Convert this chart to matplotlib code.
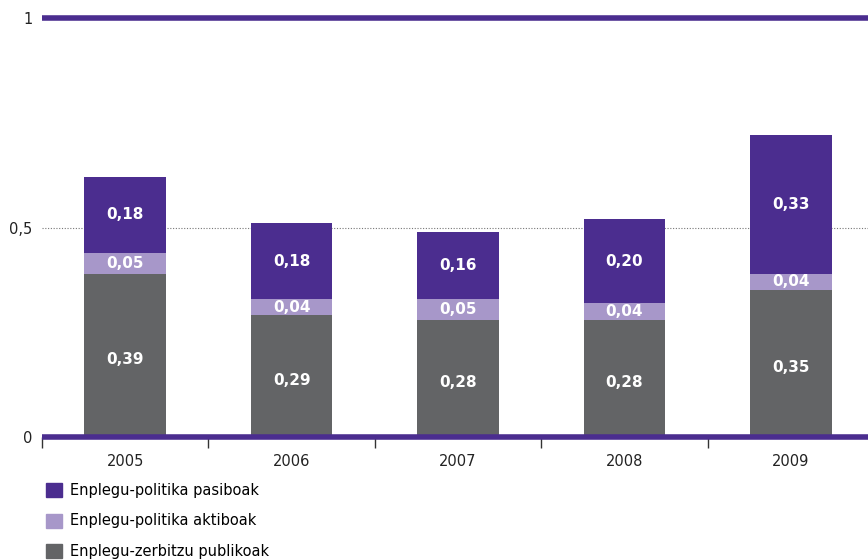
import matplotlib.pyplot as plt
from matplotlib.patches import Patch
import numpy as np

years = ["2005", "2006", "2007", "2008", "2009"]
publikoak = [0.39, 0.29, 0.28, 0.28, 0.35]   # Enplegu-zerbitzu publikoak
aktiboak = [0.05, 0.04, 0.05, 0.04, 0.04]    # Enplegu-politika aktiboak
pasiboak = [0.18, 0.18, 0.16, 0.20, 0.33]    # Enplegu-politika pasiboak

c_dark = "#4b2d8f"
c_light = "#a797c9"
c_grey = "#636466"

fig = plt.figure(figsize=(8.68, 5.6), dpi=100)
# axes runs past the right edge of the figure, like the original
ax = fig.add_axes([42 / 868, 1 - 437 / 560, 832 / 868, 419 / 560])

x = np.arange(len(years))
w = 0.49
pub = np.array(publikoak)
akt = np.array(aktiboak)
pas = np.array(pasiboak)

ax.axhline(0.5, color="#777777", lw=0.8, ls=(0, (1, 1.5)), zorder=1)
ax.bar(x, pub, w, color=c_grey, zorder=2)
ax.bar(x, akt, w, bottom=pub, color=c_light, zorder=2)
ax.bar(x, pas, w, bottom=pub + akt, color=c_dark, zorder=2)

def fmt(v):
    return f"{v:.2f}".replace(".", ",")

for i in range(len(years)):
    ax.text(x[i], pub[i] / 2 - 0.01, fmt(pub[i]), ha="center", va="center",
            color="white", fontsize=11, fontweight="bold")
    ax.text(x[i], pub[i] + akt[i] / 2, fmt(akt[i]), ha="center", va="center",
            color="white", fontsize=11, fontweight="bold")
    ax.text(x[i], pub[i] + akt[i] + pas[i] / 2, fmt(pas[i]), ha="center", va="center",
            color="white", fontsize=11, fontweight="bold")

# top and bottom purple lines
ax.axhline(1, color=c_dark, lw=4, zorder=3, clip_on=False, solid_capstyle="butt")
ax.axhline(0, color=c_dark, lw=4, zorder=3, clip_on=False, solid_capstyle="butt")

ax.set_xlim(-0.5, 4.5)
ax.set_ylim(0, 1)
for s in ax.spines.values():
    s.set_visible(False)

ax.set_yticks([0, 0.5, 1])
ax.set_yticklabels(["0", "0,5", "1"], fontsize=10.5, color="#222222")
ax.tick_params(axis="y", length=0, pad=7)

ax.set_xticks(x)
ax.set_xticklabels(years, fontsize=10.5, color="#222222")
ax.tick_params(axis="x", length=0, pad=12)
ax.set_xticks(np.arange(-0.5, 5, 1), minor=True)
ax.tick_params(axis="x", which="minor", length=8, width=1, color="#333333")

handles = [Patch(color=c_dark, label="Enplegu-politika pasiboak"),
           Patch(color=c_light, label="Enplegu-politika aktiboak"),
           Patch(color=c_grey, label="Enplegu-zerbitzu publikoak")]
fig.legend(handles=handles, loc="upper left", bbox_to_anchor=(46 / 868, 1 - 483 / 560),
           frameon=False, fontsize=10.5, handlelength=1.1, handleheight=1.1,
           handletextpad=0.55, labelspacing=1.06, borderpad=0, borderaxespad=0)

fig.savefig("out.png", dpi=100)
